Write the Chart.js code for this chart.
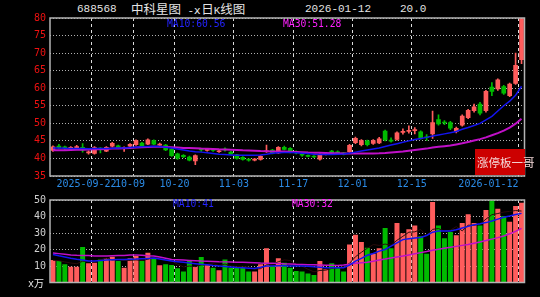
<!DOCTYPE html>
<html>
<head>
<meta charset="utf-8">
<script src="https://cdn.jsdelivr.net/npm/chart.js@4.4.1/dist/chart.umd.min.js"></script>
<style>
    body { margin: 0; background: #000; width: 540px; height: 297px; overflow: hidden; position: relative; }
    canvas { position: absolute; left: 0; }
    .t { position: absolute; white-space: nowrap; line-height: 1; }
    .mono { font-family: "DejaVu Sans Mono", monospace; }
    .cjk { font-family: "Noto Sans CJK SC", sans-serif; }
</style>
</head>
<body>
<div class="t" style="left:77px;top:4px;color:#e4e4e4;font-family:'Liberation Mono',monospace;font-size:11px;">688568</div>
<div class="t" style="left:131px;top:3px;color:#e4e4e4;font-size:11px;font-family:'Liberation Mono',monospace;"><span class="cjk" style="font-size:12.5px">中科星图</span> -ⅹ<span class="cjk" style="font-size:12.5px">日</span>K<span class="cjk" style="font-size:12.5px">线图</span></div>
<div class="t" style="left:305px;top:4px;color:#e4e4e4;font-family:'Liberation Mono',monospace;font-size:11px;">2026-01-12</div>
<div class="t" style="left:400px;top:4px;color:#e4e4e4;font-family:'Liberation Mono',monospace;font-size:11px;">20.0</div>

<canvas id="klineChart" width="540" height="190" style="top:0"></canvas>
<canvas id="volumeChart" width="540" height="107" style="top:190px"></canvas>

<div class="t mono" style="left:167px;top:19px;color:#2424ff;font-size:9.7px;">MA10:60.56</div>
<div class="t mono" style="left:283px;top:19px;color:#ff20ff;font-size:9.7px;">MA30:51.28</div>
<div class="t mono" style="left:173px;top:199px;color:#2424ff;font-size:9.7px;">MA10:41</div>
<div class="t mono" style="left:292px;top:199px;color:#ff20ff;font-size:9.7px;">MA30:32</div>

<div style="position:absolute;left:475px;top:149px;width:50px;height:26px;background:#cc0000;"></div>
<div class="t cjk" style="left:477px;top:157px;color:#f4d8d8;font-size:11.5px;">涨停板一哥</div>
<div class="t" style="left:28px;top:278px;color:#e8e8e8;font-size:10px;"><span class="mono">x</span><span class="cjk">万</span></div>

<script>
// Trading days shown (Sep 11 2025 .. Jan 12 2026)
const dates = [
    '2025-09-11','2025-09-12','2025-09-15','2025-09-16','2025-09-17','2025-09-18','2025-09-19','2025-09-22','2025-09-23','2025-09-24',
    '2025-09-25','2025-09-26','2025-09-29','2025-09-30','2025-10-09','2025-10-10','2025-10-13','2025-10-14','2025-10-15','2025-10-16',
    '2025-10-17','2025-10-20','2025-10-21','2025-10-22','2025-10-23','2025-10-24','2025-10-27','2025-10-28','2025-10-29','2025-10-30',
    '2025-10-31','2025-11-03','2025-11-04','2025-11-05','2025-11-06','2025-11-07','2025-11-10','2025-11-11','2025-11-12','2025-11-13',
    '2025-11-14','2025-11-17','2025-11-18','2025-11-19','2025-11-20','2025-11-21','2025-11-24','2025-11-25','2025-11-26','2025-11-27',
    '2025-11-28','2025-12-01','2025-12-02','2025-12-03','2025-12-04','2025-12-05','2025-12-08','2025-12-09','2025-12-10','2025-12-11',
    '2025-12-12','2025-12-15','2025-12-16','2025-12-17','2025-12-18','2025-12-19','2025-12-22','2025-12-23','2025-12-24','2025-12-25',
    '2025-12-26','2025-12-29','2025-12-30','2025-12-31','2026-01-05','2026-01-06','2026-01-07','2026-01-08','2026-01-09','2026-01-12'
];

const opens = [
    42.3, 43.5, 43.3, 42.9, 43.0, 43.2, 41.6, 41.4, 42.9, 42.1,
    43.5, 43.6, 42.9, 43.5, 43.9, 44.4, 44.1, 45.1, 43.8, 43.8,
    42.6, 41.3, 40.9, 40.4, 39.3, 42.6, 42.3, 42.5, 41.9, 42.6,
    41.8, 41.0, 40.3, 39.7, 39.5, 39.7, 41.9, 42.4, 41.6, 43.2,
    42.9, 42.0, 41.1, 40.8, 40.6, 39.8, 41.2, 42.1, 41.9, 41.4,
    41.9, 44.5, 43.9, 45.0, 44.3, 44.4, 47.8, 45.2, 45.4, 47.4,
    47.7, 47.9, 47.6, 46.1, 47.0, 51.1, 50.3, 50.2, 47.6, 49.5,
    51.6, 53.6, 55.5, 53.6, 60.3, 59.8, 60.5, 57.9, 61.4, 68.1
];
const highs = [
    43.6, 44.0, 43.5, 43.4, 43.7, 44.2, 42.2, 43.4, 43.1, 43.4,
    44.6, 43.8, 43.3, 44.2, 45.3, 44.6, 45.6, 45.3, 44.4, 44.0,
    42.8, 41.5, 41.1, 40.7, 41.0, 42.9, 42.8, 42.7, 42.4, 43.0,
    42.0, 41.2, 40.5, 39.9, 40.0, 40.8, 43.8, 42.6, 43.4, 43.5,
    43.1, 42.2, 41.3, 41.0, 40.8, 41.4, 41.7, 42.3, 42.2, 41.7,
    44.0, 46.1, 45.4, 45.2, 45.4, 46.0, 48.1, 45.9, 47.6, 48.4,
    49.3, 48.8, 47.9, 46.8, 53.5, 52.4, 50.8, 50.6, 48.9, 52.4,
    54.0, 55.5, 56.0, 59.4, 61.6, 62.7, 60.8, 61.5, 70.0, 79.8
];
const lows = [
    42.0, 42.8, 42.6, 42.7, 42.8, 41.8, 41.2, 41.2, 41.6, 41.9,
    43.3, 42.9, 42.0, 43.3, 43.7, 43.2, 43.9, 43.9, 43.5, 42.2,
    40.6, 39.7, 40.2, 39.3, 38.2, 42.0, 42.1, 42.0, 41.7, 42.1,
    41.1, 39.8, 39.5, 39.2, 39.3, 39.5, 41.7, 41.3, 41.4, 42.4,
    41.6, 41.3, 40.6, 40.4, 40.2, 39.5, 41.0, 41.2, 41.1, 41.0,
    41.7, 44.2, 43.6, 43.6, 44.0, 44.2, 45.0, 44.6, 45.2, 46.9,
    47.2, 47.0, 45.5, 45.1, 45.7, 49.5, 49.6, 48.2, 47.3, 49.2,
    51.3, 53.2, 52.4, 53.2, 57.9, 59.4, 58.2, 57.6, 61.1, 67.0
];
const closes = [
    43.3, 43.0, 42.9, 43.1, 43.4, 42.4, 41.8, 43.1, 42.7, 43.2,
    44.3, 43.1, 43.0, 44.0, 45.1, 43.5, 45.3, 44.1, 44.1, 42.4,
    40.8, 40.1, 40.5, 39.5, 40.8, 42.4, 42.5, 42.3, 42.1, 42.4,
    41.3, 40.0, 39.7, 39.5, 39.7, 40.6, 42.1, 41.5, 43.2, 42.6,
    41.8, 41.6, 40.9, 40.6, 40.4, 41.2, 41.4, 41.4, 41.3, 41.3,
    43.7, 45.7, 45.1, 43.9, 45.1, 45.6, 45.3, 44.9, 47.3, 47.7,
    48.0, 48.2, 45.8, 45.9, 50.2, 49.8, 50.1, 48.6, 48.6, 52.1,
    53.7, 54.7, 52.9, 59.1, 59.1, 62.4, 58.6, 61.2, 66.5, 79.8
];

// Moving averages
const ma10 = [
    43.0, 42.95, 42.9, 42.85, 42.8, 42.8, 42.75, 42.8, 42.8, 42.85,
    42.9, 43.0, 43.0, 43.1, 43.2, 43.3, 43.4, 43.5, 43.4, 43.2,
    43.0, 42.7, 42.4, 42.1, 41.9, 41.8, 41.6, 41.4, 41.2, 41.1,
    41.0, 40.9, 40.9, 40.9, 40.9, 41.0, 41.2, 41.5, 41.6, 41.7,
    41.7, 41.6, 41.5, 41.4, 41.2, 41.1, 41.1, 41.1, 41.2, 41.3,
    41.5, 41.8, 42.1, 42.4, 42.7, 43.0, 43.4, 43.8, 44.2, 44.6,
    45.0, 45.4, 45.7, 46.0, 46.4, 46.7, 47.0, 47.3, 47.7, 48.3,
    48.8, 49.4, 50.0, 51.0, 52.0, 53.5, 55.0, 56.3, 58.0, 60.56
];
const ma30 = [
    42.3, 42.3, 42.35, 42.4, 42.45, 42.5, 42.55, 42.6, 42.65, 42.7,
    42.8, 42.85, 42.9, 43.0, 43.1, 43.2, 43.25, 43.3, 43.3, 43.25,
    43.2, 43.1, 43.0, 42.95, 42.9, 42.8, 42.75, 42.7, 42.6, 42.55,
    42.5, 42.4, 42.3, 42.25, 42.2, 42.1, 42.05, 42.0, 42.0, 41.95,
    41.9, 41.85, 41.8, 41.7, 41.65, 41.6, 41.55, 41.5, 41.45, 41.4,
    41.4, 41.4, 41.4, 41.4, 41.4, 41.45, 41.55, 41.7, 41.85, 42.0,
    42.2, 42.4, 42.6, 42.8, 43.1, 43.3, 43.5, 43.7, 44.0, 44.3,
    44.7, 45.1, 45.5, 46.0, 46.6, 47.2, 47.9, 48.8, 49.9, 51.28
];

// Volume, in 10k lots
const volumes = [
    13.6, 13.0, 11.0, 9.6, 9.6, 21.5, 11.6, 12.0, 14.0, 14.7,
    15.6, 13.0, 9.0, 14.7, 16.0, 13.0, 18.0, 15.0, 10.4, 11.0,
    10.6, 8.6, 6.6, 13.0, 9.4, 15.4, 10.4, 9.0, 7.4, 14.0,
    9.0, 9.0, 9.0, 6.6, 6.6, 11.0, 20.7, 10.0, 14.7, 12.0,
    9.0, 7.0, 6.6, 5.5, 4.5, 13.0, 8.0, 11.6, 8.6, 6.6,
    23.0, 29.0, 24.5, 21.0, 17.5, 20.7, 33.0, 20.7, 36.0, 29.8,
    32.2, 34.6, 28.0, 17.5, 48.8, 34.6, 26.8, 30.6, 28.6, 36.0,
    41.3, 36.0, 34.6, 44.0, 49.8, 44.7, 40.3, 36.8, 46.4, 48.4
];
const volMa5 = [
    13.5, 13.2, 12.5, 11.8, 11.4, 12.9, 12.7, 12.9, 13.7, 14.8,
    13.6, 13.9, 13.3, 13.4, 13.7, 13.3, 14.1, 15.3, 14.5, 13.5,
    13.0, 11.1, 9.4, 10.0, 9.6, 10.6, 11.0, 11.4, 10.3, 11.2,
    10.0, 9.7, 9.7, 9.5, 8.0, 8.4, 10.7, 11.0, 12.6, 13.7,
    13.3, 10.7, 9.9, 8.0, 6.5, 7.3, 7.5, 8.5, 9.1, 9.6,
    11.6, 15.6, 18.3, 20.8, 23.0, 22.5, 23.3, 22.6, 25.6, 28.0,
    30.5, 30.7, 32.1, 28.4, 32.2, 32.7, 31.1, 31.7, 33.9, 31.3,
    34.7, 34.7, 35.3, 38.4, 41.1, 41.8, 42.7, 43.1, 43.6, 43.3
];
const volMa10 = [
    17.0, 16.2, 15.5, 14.7, 14.1, 13.6, 13.0, 13.1, 13.3, 13.6,
    13.8, 13.9, 14.0, 14.1, 14.2, 14.4, 14.6, 14.8, 14.3, 13.7,
    13.0, 12.6, 12.2, 11.8, 11.4, 11.0, 10.7, 10.3, 10.0, 9.7,
    9.4, 9.1, 8.9, 8.7, 8.5, 9.2, 10.0, 10.0, 10.1, 10.1,
    10.0, 10.0, 10.0, 9.8, 9.5, 9.3, 9.0, 9.0, 9.0, 9.0,
    10.5, 13.0, 14.6, 16.5, 17.6, 19.0, 20.0, 22.0, 24.0, 26.0,
    26.5, 27.0, 27.3, 28.5, 30.5, 31.2, 31.2, 31.2, 32.0, 33.0,
    34.0, 35.0, 35.6, 36.3, 37.3, 38.4, 39.5, 40.3, 41.2, 41.9
];
const volMa30 = [
    17.9, 17.5, 17.1, 16.7, 16.5, 16.4, 16.3, 16.1, 16.0, 16.1,
    16.2, 16.3, 16.4, 16.6, 16.7, 16.5, 16.2, 16.0, 15.4, 14.7,
    14.0, 13.8, 13.6, 13.4, 13.2, 13.0, 12.9, 12.8, 12.6, 12.5,
    12.4, 12.3, 12.2, 12.1, 12.0, 11.8, 11.7, 11.6, 11.5, 11.3,
    11.2, 11.0, 10.9, 10.8, 10.7, 10.6, 10.5, 10.4, 10.3, 10.6,
    11.1, 11.7, 12.0, 12.3, 12.9, 13.6, 14.2, 14.9, 15.5, 16.0,
    16.7, 17.4, 18.1, 18.8, 19.6, 20.2, 20.8, 21.3, 21.9, 22.5,
    23.0, 23.8, 24.6, 25.4, 26.3, 27.2, 28.2, 29.5, 31.0, 32.8
];

// Axis ticks
const tickDates = ['2025-09-22', '2025-10-09', '2025-10-20', '2025-11-03', '2025-11-17', '2025-12-01', '2025-12-15', '2026-01-12'];
const tickLabels = ['2025-09-22', '10-09', '10-20', '11-03', '11-17', '12-01', '12-15', '2026-01-12'];
const priceTicks = [35, 40, 45, 50, 55, 60, 65, 70, 75, 80];
const volumeTicks = [0, 10, 20, 30, 40, 50];

const UP = '#ff5c5c';
const DOWN = '#00bb00';
const BLUE = '#1414f0';
const PURPLE = '#c010c8';

const candleColors = closes.map((c, i) => c >= opens[i] ? UP : DOWN);
const gridIdx = tickDates.map(d => dates.indexOf(d));

// dashed vertical lines only at the labelled dates
function dateAxis() {
    return {
        type: 'category',
        offset: true,
        grid: {
            offset: true,
            drawTicks: false,
            color: ctx => gridIdx.includes(ctx.index) ? '#dcdcdc' : 'rgba(0,0,0,0)'
        },
        border: { display: false, dash: [3, 3] },
        ticks: { display: false, autoSkip: false }
    };
}

const framePlugin = {
    id: 'frame',
    afterDraw(chart) {
        const a = chart.chartArea;
        const ctx = chart.ctx;
        ctx.save();
        ctx.strokeStyle = '#b4b4b4';
        ctx.lineWidth = 1.5;
        ctx.strokeRect(a.left, a.top, a.right - a.left, a.bottom - a.top);
        ctx.restore();
    }
};

const dateLabelPlugin = {
    id: 'dateLabels',
    afterDraw(chart) {
        const xs = chart.scales.x;
        const ctx = chart.ctx;
        const half = (xs.getPixelForValue(1) - xs.getPixelForValue(0)) / 2;
        ctx.save();
        ctx.font = '10px "DejaVu Sans Mono"';
        ctx.fillStyle = '#2b8be6';
        ctx.textBaseline = 'middle';
        tickDates.forEach((d, k) => {
            let x = xs.getPixelForValue(dates.indexOf(d)) - half;
            ctx.textAlign = 'center';
            if (k === 0) x -= 5;
            if (k === 1) x -= 3;
            if (k === tickDates.length - 1) ctx.textAlign = 'right';
            ctx.fillText(tickLabels[k], x, chart.chartArea.bottom + 8.5);
        });
        ctx.restore();
    }
};

Chart.defaults.animation = false;
Chart.defaults.responsive = false;
Chart.defaults.devicePixelRatio = 1;
Chart.defaults.plugins.legend.display = false;
Chart.defaults.plugins.tooltip.enabled = false;

// =============== K LINE ===============
new Chart(document.getElementById('klineChart'), {
    type: 'bar',
    data: {
        labels: dates,
        datasets: [
            {
                type: 'line', label: 'MA10', data: ma10, order: 0,
                borderColor: BLUE, borderWidth: 1.5, pointRadius: 0, tension: 0
            },
            {
                type: 'line', label: 'MA30', data: ma30, order: 1,
                borderColor: PURPLE, borderWidth: 2, pointRadius: 0, tension: 0
            },
            {
                label: 'body', data: opens.map((o, i) => [o, closes[i]]), order: 2,
                backgroundColor: candleColors, barThickness: 4, minBarLength: 1, grouped: false
            },
            {
                label: 'wick', data: lows.map((l, i) => [l, highs[i]]), order: 3,
                backgroundColor: candleColors, barThickness: 1, grouped: false
            }
        ]
    },
    options: {
        layout: { padding: { top: 18, right: 15.5, bottom: 14, left: 0 } },
        scales: {
            x: dateAxis(),
            y: {
                min: 35, max: 80,
                afterBuildTicks: s => { s.ticks = priceTicks.map(v => ({ value: v })); },
                afterFit: s => { s.width = 50; },
                grid: { color: '#b0b0b0', drawTicks: false },
                border: { display: false, dash: [1, 2] },
                ticks: { color: '#ee1111', padding: 4, font: { family: 'DejaVu Sans Mono', size: 10 } }
            }
        }
    },
    plugins: [framePlugin, dateLabelPlugin]
});

// =============== VOLUME ===============
new Chart(document.getElementById('volumeChart'), {
    type: 'bar',
    data: {
        labels: dates,
        datasets: [
            {
                type: 'line', label: 'MA10', data: volMa10, order: 0,
                borderColor: BLUE, borderWidth: 1.5, pointRadius: 0, tension: 0
            },
            {
                type: 'line', label: 'MA30', data: volMa30, order: 1,
                borderColor: PURPLE, borderWidth: 1.5, pointRadius: 0, tension: 0
            },
            {
                type: 'line', label: 'MA5', data: volMa5, order: 2,
                borderColor: '#2a0c0c', borderWidth: 1, pointRadius: 0, tension: 0
            },
            {
                label: 'volume', data: volumes, order: 3,
                backgroundColor: candleColors, barPercentage: 0.84, categoryPercentage: 1
            }
        ]
    },
    options: {
        layout: { padding: { top: 9, right: 15.5, bottom: 14.5, left: 0 } },
        scales: {
            x: dateAxis(),
            y: {
                min: 0, max: 50,
                afterBuildTicks: s => { s.ticks = volumeTicks.map(v => ({ value: v })); },
                afterFit: s => { s.width = 50; },
                grid: { color: '#b0b0b0', drawTicks: false },
                border: { display: false, dash: [1, 2] },
                ticks: {
                    color: '#d0d0d0', padding: 4, font: { family: 'DejaVu Sans Mono', size: 10 },
                    callback: v => v === 0 ? '' : v
                }
            }
        }
    },
    plugins: [framePlugin]
});
</script>
</body>
</html>
